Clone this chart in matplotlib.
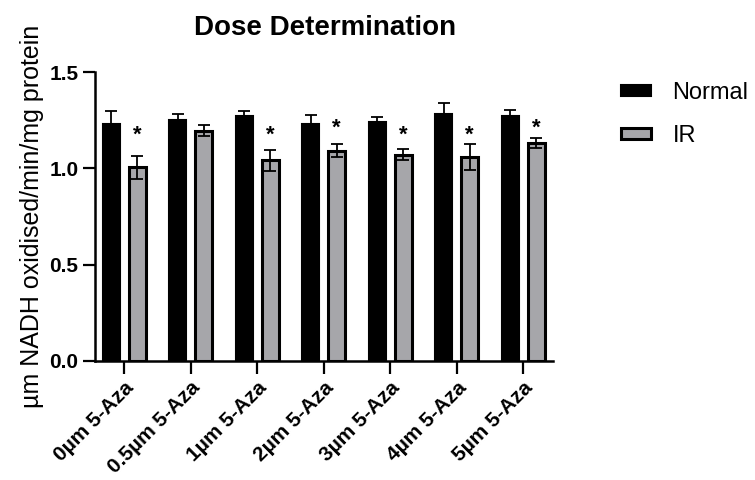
import matplotlib
matplotlib.use("Agg")
import matplotlib.pyplot as plt
import numpy as np

plt.rcParams['font.family'] = ['Liberation Sans', 'DejaVu Sans']

doses = ['0µm 5-Aza', '0.5µm 5-Aza', '1µm 5-Aza', '2µm 5-Aza',
         '3µm 5-Aza', '4µm 5-Aza', '5µm 5-Aza']
normal = [1.23, 1.25, 1.27, 1.23, 1.24, 1.28, 1.27]
normal_err = [0.065, 0.03, 0.028, 0.049, 0.028, 0.059, 0.031]
ir = [1.006, 1.195, 1.041, 1.091, 1.07, 1.058, 1.131]
ir_err = [0.06, 0.028, 0.054, 0.033, 0.028, 0.066, 0.028]
# significance stars (None = not significant)
star_y = [1.17, None, 1.17, 1.21, 1.17, 1.17, 1.21]

x = np.arange(len(doses))
w = 0.26
off = 0.195

fig = plt.figure(figsize=(7.55, 4.8), dpi=100)
ax = fig.add_axes([0.1258, 0.248, 0.607, 0.602])

ax.bar(x - off, normal, w, color='black', edgecolor='black', linewidth=1.5,
       label='Normal', zorder=2)
ax.errorbar(x - off, normal, yerr=[np.zeros(len(x)), normal_err], fmt='none',
            ecolor='black', elinewidth=1.3, capsize=4, capthick=1.3, zorder=3)
ax.bar(x + off, ir, w, color='#a6a6aa', edgecolor='black', linewidth=2.2,
       label='IR', zorder=2)
ax.errorbar(x + off, ir, yerr=ir_err, fmt='none', ecolor='black',
            elinewidth=1.3, capsize=4, capthick=1.3, zorder=3)

for xi, sy in zip(x, star_y):
    if sy is not None:
        ax.text(xi + off, sy, '*', ha='center', va='center', fontsize=16,
                fontweight='bold')

ax.set_xlim(-0.44, 6.45)
ax.set_ylim(0, 1.5)
ax.set_yticks([0, 0.5, 1.0, 1.5])
ax.set_yticklabels(['0.0', '0.5', '1.0', '1.5'], fontweight='bold', fontsize=15)
ax.set_xticks(x)
ax.set_xticklabels(doses, rotation=45, ha='right', rotation_mode='anchor',
                   fontweight='bold', fontsize=15)
ax.tick_params(axis='both', direction='out', length=9, width=1.6, pad=3)

for s in ['top', 'right']:
    ax.spines[s].set_visible(False)
for s in ['left', 'bottom']:
    ax.spines[s].set_linewidth(1.8)

ax.set_ylabel('µm NADH oxidised/min/mg protein', fontsize=18, labelpad=4)
fig.text(0.43, 1 - 35 / 480, 'Dose Determination', ha='center', va='baseline',
         fontweight='bold', fontsize=20)

leg = fig.legend(loc='upper left', bbox_to_anchor=(0.822, 0.83), frameon=False,
                 fontsize=17, handlelength=1.3, handleheight=0.35,
                 labelspacing=0.9, handletextpad=0.9, borderpad=0,
                 borderaxespad=0)

fig.savefig('out.png', dpi=100)
